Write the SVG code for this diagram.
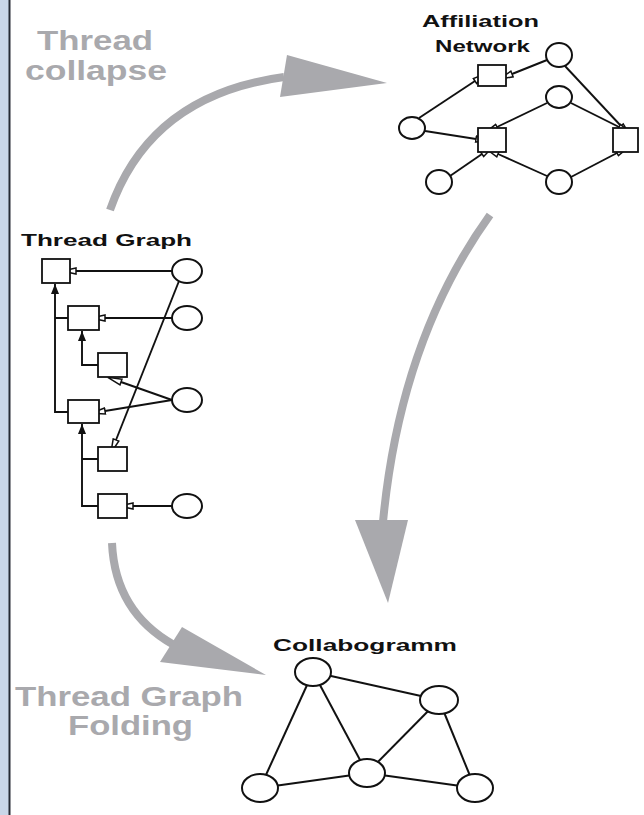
<svg xmlns="http://www.w3.org/2000/svg" width="644" height="815" viewBox="0 0 644 815">
<style>
.sq{fill:#fff;stroke:#111;stroke-width:1.8}
.nd{fill:#fff;stroke:#111;stroke-width:2}
.ln{stroke:#111;stroke-width:2;fill:none}
.ha{stroke:#111;stroke-width:1.9;fill:none;marker-end:url(#hollow)}
.ta{stroke:#111;stroke-width:1.9;fill:none;marker-start:url(#solid)}
.ga{stroke:#a9a9ad;stroke-width:8;fill:none}
.gh{fill:#a9a9ad}
.gt{font-family:"Liberation Sans",Arial,sans-serif;font-weight:bold;font-size:27px;fill:#a9a9ad}
.bt{font-family:"Liberation Sans",Arial,sans-serif;font-weight:bold;font-size:17px;fill:#111}
</style>
<defs>
<marker id="hollow" markerUnits="userSpaceOnUse" markerWidth="16" markerHeight="10" viewBox="0 0 16 10" refX="1" refY="5" orient="auto">
<path d="M15,2 L1,5 L15,8 Z" transform="rotate(180 8 5)" fill="#fff" stroke="#111" stroke-width="1.5"/>
</marker>
<marker id="solid" markerUnits="userSpaceOnUse" markerWidth="10" markerHeight="10" viewBox="0 0 10 8" refX="0" refY="4" orient="auto">
<path d="M0,4 L10,0 L10,8 Z" fill="#111"/>
</marker>
</defs>
<rect x="0" y="0" width="644" height="815" fill="#fff"/>
<rect x="0" y="0" width="9" height="815" fill="#c9d6e8"/>
<rect x="8.5" y="0" width="2" height="815" fill="#262a34"/>

<g id="gray-arrows">
<path class="ga" d="M110,210 Q150,95 284,77"/>
<polygon class="gh" points="287,55 387,83 280,97"/>
<path class="ga" d="M490,215 Q400,340 383,522"/>
<polygon class="gh" points="355,520 408,520 388,603"/>
<path class="ga" d="M112,543 Q115,612 174,645"/>
<polygon class="gh" points="182,627 266,675 160,662"/>
</g>

<g id="gray-labels">
<text class="gt" x="37" y="50" textLength="116" lengthAdjust="spacingAndGlyphs">Thread</text>
<text class="gt" x="25" y="80" textLength="142" lengthAdjust="spacingAndGlyphs">collapse</text>
<text class="gt" x="15" y="706" textLength="228" lengthAdjust="spacingAndGlyphs">Thread Graph</text>
<text class="gt" x="68" y="735" textLength="125" lengthAdjust="spacingAndGlyphs">Folding</text>
</g>

<g id="connectors">
<path class="ta" d="M55,284 L55,412 L68,412"/>
<path class="ln" d="M55,318 L68,318"/>
<path class="ta" d="M82,331 L82,365 L98,365"/>
<path class="ta" d="M82,424 L82,506 L98,506"/>
<path class="ln" d="M82,459 L98,459"/>
<line class="ha" x1="172" y1="271" x2="76" y2="271"/>
<line class="ha" x1="172" y1="318" x2="105" y2="318"/>
<line class="ha" x1="172" y1="400" x2="121" y2="382"/>
<line class="ha" x1="172" y1="400" x2="105" y2="411"/>
<line class="ha" x1="179" y1="281" x2="116" y2="440" stroke-width="2.4"/>
<line class="ha" x1="172" y1="506" x2="133" y2="506"/>
<line class="ha" x1="547" y1="60" x2="512" y2="74"/>
<line class="ha" x1="565" y1="66" x2="621" y2="126"/>
<line class="ha" x1="547" y1="103" x2="497" y2="127"/>
<line class="ha" x1="571" y1="103" x2="619" y2="127"/>
<line class="ha" x1="419" y1="118" x2="475" y2="81"/>
<line class="ha" x1="425" y1="131" x2="476" y2="139"/>
<line class="ha" x1="450" y1="176" x2="482" y2="154"/>
<line class="ha" x1="547" y1="176" x2="498" y2="154"/>
<line class="ha" x1="571" y1="177" x2="617" y2="153"/>
<line class="ln" x1="313" y1="672" x2="439" y2="700"/>
<line class="ln" x1="313" y1="672" x2="260" y2="788"/>
<line class="ln" x1="313" y1="672" x2="367" y2="773"/>
<line class="ln" x1="439" y1="700" x2="367" y2="773"/>
<line class="ln" x1="439" y1="700" x2="475" y2="788"/>
<line class="ln" x1="260" y1="788" x2="367" y2="773"/>
<line class="ln" x1="367" y1="773" x2="475" y2="788"/>
</g>

<g id="thread-graph">
<text class="bt" x="21" y="246" textLength="171" lengthAdjust="spacingAndGlyphs">Thread Graph</text>
<g id="tg-s1"><rect class="sq" x="42" y="259" width="28" height="24"/></g>
<g id="tg-s2"><rect class="sq" x="68" y="306" width="31" height="24"/></g>
<g id="tg-s3"><rect class="sq" x="98" y="353" width="29" height="24"/></g>
<g id="tg-s4"><rect class="sq" x="68" y="400" width="31" height="23"/></g>
<g id="tg-s5"><rect class="sq" x="98" y="447" width="29" height="24"/></g>
<g id="tg-s6"><rect class="sq" x="98" y="494" width="29" height="24"/></g>
<g id="tg-c1"><ellipse class="nd" cx="187" cy="271" rx="15" ry="12"/></g>
<g id="tg-c2"><ellipse class="nd" cx="187" cy="318" rx="15" ry="12"/></g>
<g id="tg-c3"><ellipse class="nd" cx="187" cy="400" rx="15" ry="12"/></g>
<g id="tg-c4"><ellipse class="nd" cx="187" cy="506" rx="15" ry="12"/></g>
</g>

<g id="affiliation-network">
<text class="bt" x="422" y="27" textLength="117" lengthAdjust="spacingAndGlyphs">Affiliation</text>
<text class="bt" x="435" y="52" textLength="95" lengthAdjust="spacingAndGlyphs">Network</text>
<g id="an-sA"><rect class="sq" x="478" y="65" width="28" height="21"/></g>
<g id="an-sB"><rect class="sq" x="478" y="128" width="28" height="24"/></g>
<g id="an-sC"><rect class="sq" x="613" y="128" width="25" height="24"/></g>
<g id="an-c1"><ellipse class="nd" cx="559" cy="55" rx="13" ry="12"/></g>
<g id="an-c2"><ellipse class="nd" cx="559" cy="97" rx="13" ry="11"/></g>
<g id="an-c3"><ellipse class="nd" cx="412" cy="128" rx="13" ry="11"/></g>
<g id="an-c4"><ellipse class="nd" cx="439" cy="182" rx="13" ry="12"/></g>
<g id="an-c5"><ellipse class="nd" cx="559" cy="182" rx="13" ry="12"/></g>
</g>

<g id="collabogramm">
<text class="bt" x="273" y="651" textLength="184" lengthAdjust="spacingAndGlyphs">Collabogramm</text>
<g id="cg-n1"><ellipse class="nd" cx="313" cy="672" rx="18" ry="14"/></g>
<g id="cg-n2"><ellipse class="nd" cx="439" cy="700" rx="19" ry="14"/></g>
<g id="cg-n3"><ellipse class="nd" cx="260" cy="788" rx="18" ry="14"/></g>
<g id="cg-n4"><ellipse class="nd" cx="367" cy="773" rx="18" ry="14"/></g>
<g id="cg-n5"><ellipse class="nd" cx="475" cy="788" rx="18" ry="14"/></g>
</g>
</svg>
